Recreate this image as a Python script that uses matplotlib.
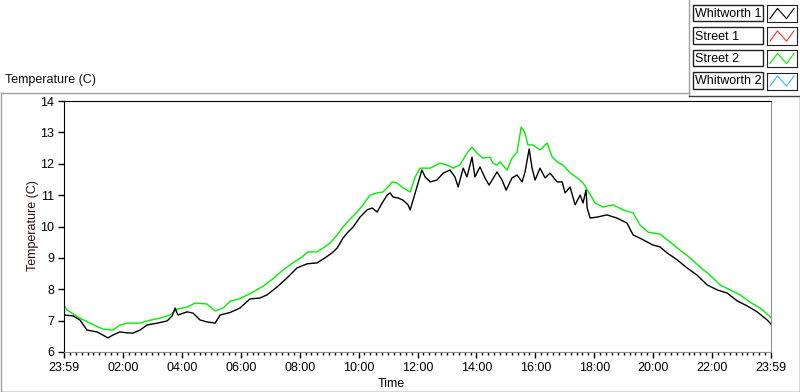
import matplotlib
matplotlib.use("Agg")
import matplotlib.pyplot as plt
from matplotlib.lines import Line2D
from matplotlib.patches import Rectangle

plt.rcParams['font.family'] = ['Liberation Sans', 'DejaVu Sans']

# ---------------- data ----------------
street2_hours = [0.00, 0.10, 0.54, 0.88, 1.32, 1.66, 1.90, 2.14, 2.58, 2.82, 3.26, 3.60, 3.84,
                 4.18, 4.45, 4.85, 5.13, 5.40, 5.64, 5.97, 6.42, 6.76, 7.09, 7.43, 7.77, 8.08,
                 8.28, 8.59, 8.79, 9.03, 9.27, 9.47, 9.71, 9.95, 10.15, 10.39, 10.63, 10.83,
                 11.00, 11.14, 11.30, 11.47, 11.65, 11.75, 11.92, 12.09, 12.43, 12.76, 13.00,
                 13.21, 13.44, 13.68, 13.85, 14.02, 14.22, 14.46, 14.56, 14.70, 14.80, 15.04,
                 15.21, 15.38, 15.52, 15.65, 15.75, 15.92, 16.16, 16.40, 16.57, 16.74, 16.94,
                 17.18, 17.42, 17.62, 17.86, 18.03, 18.30, 18.64, 18.98, 19.32, 19.55, 19.83,
                 20.23, 20.57, 20.91, 21.25, 21.59, 21.93, 22.27, 22.61, 22.95, 23.29, 23.63,
                 24.00]
street2_temp = [7.50, 7.34, 7.08, 6.92, 6.73, 6.70, 6.86, 6.92, 6.92, 6.99, 7.08, 7.18, 7.37,
                7.43, 7.56, 7.53, 7.31, 7.40, 7.62, 7.70, 7.91, 8.10, 8.33, 8.61, 8.84, 9.03,
                9.19, 9.19, 9.31, 9.47, 9.73, 9.98, 10.24, 10.46, 10.69, 11.00, 11.07, 11.10,
                11.26, 11.42, 11.39, 11.26, 11.16, 11.10, 11.58, 11.86, 11.86, 12.02, 11.96,
                11.86, 11.96, 12.34, 12.53, 12.34, 12.18, 12.21, 12.02, 11.96, 12.06, 11.80,
                12.18, 12.37, 13.17, 12.98, 12.60, 12.60, 12.44, 12.66, 12.22, 12.06, 11.96,
                11.71, 11.55, 11.39, 11.02, 10.75, 10.62, 10.69, 10.53, 10.43, 10.05, 9.82,
                9.76, 9.51, 9.25, 9.00, 8.71, 8.45, 8.14, 7.98, 7.82, 7.59, 7.40,
                7.10]

whitworth1_hours = [0.00, 0.31, 0.54, 0.78, 1.12, 1.32, 1.49, 1.66, 1.90, 2.14, 2.34, 2.58, 2.82,
                    3.16, 3.50, 3.67, 3.77, 3.87, 4.18, 4.38, 4.62, 4.85, 5.13, 5.30, 5.64, 5.97,
                    6.31, 6.65, 6.89, 7.23, 7.57, 7.91, 8.25, 8.59, 8.86, 9.10, 9.27, 9.47, 9.64,
                    9.81, 10.05, 10.29, 10.46, 10.63, 10.80, 10.97, 11.07, 11.17, 11.34, 11.51,
                    11.68, 11.75, 11.85, 11.98, 12.15, 12.26, 12.43, 12.66, 12.87, 13.10, 13.27,
                    13.38, 13.55, 13.68, 13.85, 13.95, 14.12, 14.29, 14.43, 14.70, 14.87, 15.01,
                    15.21, 15.38, 15.55, 15.65, 15.79, 15.89, 15.99, 16.16, 16.33, 16.50, 16.74,
                    16.91, 17.01, 17.18, 17.35, 17.52, 17.62, 17.72, 17.76, 17.86, 18.10, 18.43,
                    18.77, 19.11, 19.32, 19.55, 19.79, 19.99, 20.23, 20.47, 20.81, 21.15, 21.49,
                    21.83, 22.17, 22.51, 22.85, 23.19, 23.53, 23.87, 24.00]
whitworth1_temp = [7.18, 7.15, 7.02, 6.70, 6.64, 6.54, 6.45, 6.54, 6.64, 6.61, 6.60, 6.70, 6.86,
                   6.92, 6.99, 7.15, 7.40, 7.18, 7.28, 7.24, 7.02, 6.96, 6.92, 7.18, 7.26, 7.40,
                   7.69, 7.72, 7.82, 8.07, 8.36, 8.68, 8.81, 8.84, 9.00, 9.16, 9.31, 9.63, 9.82,
                   9.98, 10.30, 10.53, 10.59, 10.46, 10.75, 11.00, 11.07, 10.94, 10.91, 10.84,
                   10.69, 10.53, 10.84, 11.26, 11.80, 11.58, 11.42, 11.48, 11.70, 11.80, 11.58,
                   11.26, 11.86, 11.58, 12.21, 11.58, 11.90, 11.55, 11.32, 11.74, 11.48, 11.16,
                   11.55, 11.64, 11.42, 11.74, 12.47, 11.86, 11.48, 11.86, 11.55, 11.70, 11.42,
                   11.42, 11.07, 11.26, 10.69, 11.00, 10.75, 11.16, 10.59, 10.27, 10.30, 10.37,
                   10.27, 10.11, 9.73, 9.63, 9.51, 9.41, 9.35, 9.16, 8.94, 8.68, 8.45,
                   8.14, 7.98, 7.88, 7.63, 7.47, 7.28, 7.02, 6.89]

series_names = ["Whitworth 1", "Street 1", "Street 2", "Whitworth 2"]
series_colors = ["#000000", "#ff3030", "#00ee00", "#33bbff"]

x_tick_hours = [0, 2, 4, 6, 8, 10, 12, 14, 16, 18, 20, 22, 24]
x_tick_labels = ["23:59", "02:00", "04:00", "06:00", "08:00", "10:00", "12:00",
                 "14:00", "16:00", "18:00", "20:00", "22:00", "23:59"]
y_ticks = [6, 7, 8, 9, 10, 11, 12, 13, 14]

# ---------------- figure ----------------
W, H = 800, 392
fig = plt.figure(figsize=(W / 100, H / 100), dpi=100)
fig.patch.set_facecolor("white")


def fx(x):
    return x / W


def fy(y):
    return 1 - y / H


def fline(xs, ys, color="#a0a0a0", lw=1.0):
    fig.add_artist(Line2D([fx(v) for v in xs], [fy(v) for v in ys],
                          transform=fig.transFigure, color=color, lw=lw))


# outer panel frame
fline([0.5, 688.5], [92.5, 92.5])
fline([0.5, 0.5], [92.5, 391.5])
fline([0.5, 799.5], [391.5, 391.5], color="#404040")
fline([799.5, 799.5], [95.5, 391.5], color="#404040")
fline([688.5, 688.5], [0, 95.5])
fline([688.5, 799.5], [95.5, 95.5], color="#404040")

# plot title
fig.text(fx(5), fy(80), "Temperature (C)", fontsize=9, ha="left", va="center", color="#101010")

ax = fig.add_axes([fx(64), fy(352), (771 - 64) / W, (352 - 101) / H])
ax.plot(street2_hours, street2_temp, color=series_colors[2], lw=1.0)
ax.plot(whitworth1_hours, whitworth1_temp, color=series_colors[0], lw=1.0)
ax.set_xlim(0, 24)
ax.set_ylim(6, 14)
ax.set_xticks(x_tick_hours)
ax.set_xticklabels(x_tick_labels)
ax.set_xticks([i * 0.2 for i in range(121)], minor=True)
ax.set_yticks(y_ticks)
ax.tick_params(axis="both", which="major", direction="out", length=4, width=1,
               labelsize=9, colors="#000000", pad=3)
ax.tick_params(axis="x", which="minor", direction="out", length=2.5, width=1, color="#000000")
for side in ["top", "left"]:
    ax.spines[side].set_color("#000000")
for side in ["bottom", "right"]:
    ax.spines[side].set_color("#909090")

ax.set_ylabel("Temperature (C)", fontsize=9, color="#2a1010")
ax.yaxis.label.set_transform(fig.transFigure)
ax.yaxis.label.set_position((fx(33), fy(226)))
ax.yaxis.label.set_verticalalignment("center")
ax.yaxis.label.set_horizontalalignment("center")
ax.yaxis.set_label_coords(fx(33), fy(226), transform=fig.transFigure)

ax.set_xlabel("Time", fontsize=9, color="#000000")
ax.xaxis.set_label_coords(fx(391), fy(384), transform=fig.transFigure)
ax.xaxis.label.set_verticalalignment("center")

# legend
row_tops = [5, 27.5, 50, 72.5]
for name, color, top in zip(series_names, series_colors, row_tops):
    fig.add_artist(Rectangle((fx(693), fy(top + 16)), (763 - 693) / W, 16 / H,
                             transform=fig.transFigure, facecolor="white",
                             edgecolor="#202020", lw=1.0))
    fig.text(fx(695), fy(top + 9), name, fontsize=9, ha="left", va="center", color="#000000")
    sax = fig.add_axes([fx(767), fy(top + 17), 30 / W, 17 / H])
    sax.set_xlim(0, 1)
    sax.set_ylim(0, 1)
    sax.plot([0.1, 0.35, 0.65, 0.9], [0.2, 0.8, 0.2, 0.8], color=color, lw=0.8)
    sax.set_xticks([])
    sax.set_yticks([])
    for s in sax.spines.values():
        s.set_color("#202020")

fig.savefig("out.png", dpi=100)
